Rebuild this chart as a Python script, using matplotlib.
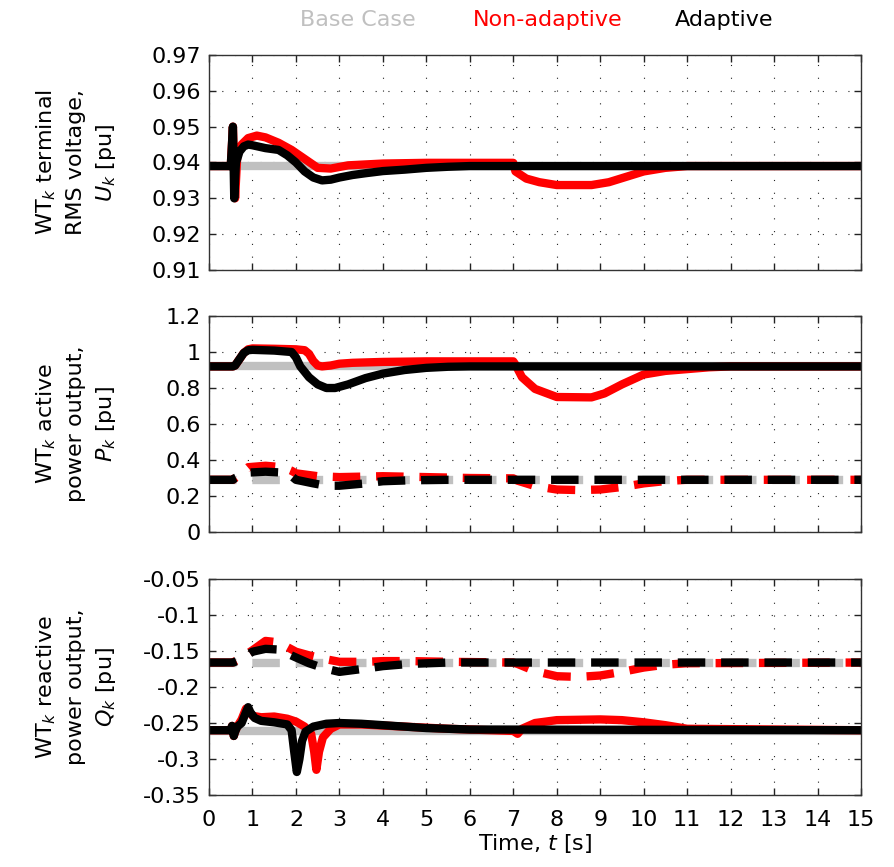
import matplotlib
matplotlib.use("Agg")
import matplotlib.pyplot as plt
from matplotlib.ticker import FixedLocator, FuncFormatter

plt.rcParams["font.family"] = ["DejaVu Sans"]
plt.rcParams["mathtext.fontset"] = "dejavusans"
plt.rcParams["axes.unicode_minus"] = False

# ---------------- data ----------------
# Terminal voltage U_k [pu]
t_u_base = [0, 15]
u_base = [0.939, 0.939]
t_u_nonad = [0, 0.5, 0.55, 0.6, 0.65, 0.75, 0.9, 1.1, 1.3, 1.6, 1.9, 2.2, 2.5, 2.8, 3.2,
             4.0, 5.0, 7.0, 7.05, 7.3, 7.6, 8.0, 8.8, 9.2, 9.6, 10.0, 10.5, 11.0, 15]
u_nonad = [0.939, 0.939, 0.950, 0.930, 0.942, 0.945, 0.9468, 0.9475, 0.947, 0.9455, 0.9435,
           0.941, 0.9385, 0.9383, 0.9392, 0.9397, 0.9399, 0.9399, 0.9375, 0.9355, 0.9345,
           0.9337, 0.9337, 0.9345, 0.936, 0.9375, 0.9385, 0.939, 0.939]
t_u_adapt = [0, 0.5, 0.55, 0.58, 0.62, 0.65, 0.7, 0.8, 0.9, 1.0, 1.3, 1.6, 1.8, 2.0, 2.2, 2.4,
             2.6, 2.8, 3.0, 3.3, 3.6, 4.0, 4.5, 5.0, 5.5, 6.0, 15]
u_adapt = [0.939, 0.939, 0.950, 0.930, 0.940, 0.941, 0.943, 0.9445, 0.945, 0.9448, 0.944,
           0.9435, 0.942, 0.940, 0.9375, 0.9358, 0.935, 0.9352, 0.9358, 0.9365, 0.937,
           0.9376, 0.938, 0.9385, 0.9388, 0.939, 0.939]

# Active power P_k [pu], solid trace
t_p_base = [0, 15]
p_base = [0.92, 0.92]
t_p_nonad = [0, 0.55, 0.6, 0.7, 0.8, 0.9, 1.0, 1.5, 2.0, 2.2, 2.3, 2.4, 2.5, 2.6, 2.8, 3.0,
             3.3, 4.0, 5.0, 6.0, 7.0, 7.05, 7.2, 7.5, 8.0, 8.8, 9.1, 9.5, 10.0, 10.5, 11.0,
             11.5, 12.0, 15]
p_nonad = [0.92, 0.92, 0.925, 0.96, 0.995, 1.015, 1.02, 1.018, 1.015, 1.01, 0.99, 0.95,
           0.925, 0.92, 0.925, 0.935, 0.94, 0.945, 0.948, 0.948, 0.948, 0.93, 0.86, 0.795,
           0.75, 0.748, 0.77, 0.82, 0.875, 0.895, 0.905, 0.915, 0.92, 0.92]
t_p_adapt = [0, 0.55, 0.6, 0.7, 0.8, 0.9, 1.0, 1.5, 1.9, 2.0, 2.1, 2.3, 2.5, 2.7, 2.9, 3.2,
             3.6, 4.0, 4.5, 5.0, 5.5, 6.0, 15]
p_adapt = [0.92, 0.92, 0.925, 0.96, 0.995, 1.01, 1.012, 1.008, 1.0, 0.97, 0.92, 0.86, 0.82,
           0.80, 0.80, 0.82, 0.855, 0.88, 0.90, 0.912, 0.918, 0.92, 0.92]

# Second power trace, dashed
t_pd_base = [0, 15]
pd_base = [0.29, 0.29]
t_pd_nonad = [0, 0.55, 0.6, 0.9, 1.3, 1.7, 1.9, 2.0, 2.5, 3.0, 3.6, 4.0, 5.0, 6.0, 7.0, 7.1,
              7.5, 8.0, 8.5, 9.0, 9.5, 10.0, 10.5, 11.0, 15]
pd_nonad = [0.29, 0.29, 0.30, 0.36, 0.368, 0.36, 0.34, 0.326, 0.31, 0.305, 0.308, 0.31,
            0.305, 0.30, 0.298, 0.285, 0.255, 0.236, 0.233, 0.236, 0.25, 0.27, 0.283, 0.29,
            0.29]
t_pd_adapt = [0, 0.55, 0.6, 0.9, 1.3, 1.7, 1.9, 2.0, 2.4, 2.7, 3.0, 3.6, 4.0, 4.6, 5.5, 15]
pd_adapt = [0.29, 0.29, 0.30, 0.33, 0.335, 0.33, 0.31, 0.29, 0.27, 0.257, 0.257, 0.27,
            0.282, 0.287, 0.29, 0.29]

# Reactive power Q_k [pu], dashed trace
t_qd_base = [0, 15]
qd_base = [-0.166, -0.166]
t_qd_nonad = [0, 0.55, 0.69, 1.0, 1.3, 1.6, 2.0, 2.3, 2.65, 3.0, 3.6, 4.0, 4.6, 5.5, 7.0,
              7.1, 7.5, 8.0, 8.5, 9.0, 9.5, 10.0, 10.5, 11.0, 15]
qd_nonad = [-0.166, -0.166, -0.161, -0.149, -0.136, -0.138, -0.151, -0.156, -0.161, -0.165,
            -0.165, -0.164, -0.164, -0.165, -0.166, -0.168, -0.178, -0.185, -0.186, -0.184,
            -0.179, -0.173, -0.169, -0.167, -0.166]
t_qd_adapt = [0, 0.55, 0.69, 1.0, 1.3, 1.6, 2.0, 2.3, 2.65, 3.0, 3.65, 4.0, 4.6, 5.5, 15]
qd_adapt = [-0.166, -0.166, -0.163, -0.151, -0.147, -0.148, -0.159, -0.167, -0.174, -0.179,
            -0.174, -0.171, -0.168, -0.166, -0.166]

# Reactive power Q_k [pu], solid trace
t_q_base = [0, 15]
q_base = [-0.261, -0.261]
t_q_nonad = [0, 0.5, 0.53, 0.57, 0.6, 0.65, 0.75, 0.85, 0.9, 1.0, 1.2, 1.5, 1.8, 2.0, 2.2,
             2.35, 2.42, 2.47, 2.53, 2.62, 2.8, 3.0, 3.5, 4.5, 5.5, 7.0, 7.1, 7.2, 7.5, 8.0,
             9.0, 9.5, 10.0, 10.5, 11.0, 15]
q_nonad = [-0.26, -0.26, -0.254, -0.268, -0.262, -0.255, -0.245, -0.23, -0.232, -0.24,
           -0.242, -0.241, -0.244, -0.248, -0.255, -0.265, -0.29, -0.315, -0.29, -0.27,
           -0.258, -0.252, -0.252, -0.255, -0.258, -0.261, -0.265, -0.258, -0.25, -0.246,
           -0.245, -0.246, -0.249, -0.253, -0.258, -0.26]
t_q_adapt = [0, 0.5, 0.53, 0.57, 0.6, 0.65, 0.75, 0.85, 0.9, 0.95, 1.05, 1.2, 1.5, 1.8, 1.9,
             1.96, 2.02, 2.08, 2.14, 2.22, 2.4, 2.7, 3.0, 3.5, 4.0, 4.5, 5.0, 6.0, 15]
q_adapt = [-0.26, -0.26, -0.254, -0.268, -0.262, -0.255, -0.25, -0.235, -0.228, -0.235,
           -0.243, -0.247, -0.249, -0.252, -0.26, -0.29, -0.318, -0.3, -0.275, -0.262,
           -0.255, -0.251, -0.25, -0.251, -0.253, -0.255, -0.257, -0.259, -0.26]

case_names = ["Base Case", "Non-adaptive", "Adaptive"]
case_colors = ["#c0c0c0", "#ff0000", "#000000"]

x_ticks = list(range(0, 16))
u_ticks = [0.91, 0.92, 0.93, 0.94, 0.95, 0.96, 0.97]
p_ticks = [0, 0.2, 0.4, 0.6, 0.8, 1.0, 1.2]
q_ticks = [-0.35, -0.3, -0.25, -0.2, -0.15, -0.1, -0.05]

# ---------------- figure ----------------
fig = plt.figure(figsize=(8.94, 8.67), dpi=100)
left, width = 0.2338, 0.7293
ax_u = fig.add_axes([left, 0.6886, width, 0.2480])
ax_p = fig.add_axes([left, 0.3864, width, 0.2491])
ax_q = fig.add_axes([left, 0.0830, width, 0.2492])

LW = 6
DASH = (3.3, 1.9)

def solid(ax, t, y, c):
    ax.plot(t, y, color=c, lw=LW, solid_joinstyle="round", solid_capstyle="butt")

def dashed(ax, t, y, c):
    ax.plot(t, y, color=c, lw=LW, dashes=DASH, dash_capstyle="butt",
            dash_joinstyle="round")

# voltage
for (t, y), c in zip([(t_u_base, u_base), (t_u_nonad, u_nonad), (t_u_adapt, u_adapt)],
                     case_colors):
    solid(ax_u, t, y, c)

# active power
for (t, y), c in zip([(t_p_base, p_base), (t_p_nonad, p_nonad), (t_p_adapt, p_adapt)],
                     case_colors):
    solid(ax_p, t, y, c)
for (t, y), c in zip([(t_pd_base, pd_base), (t_pd_nonad, pd_nonad),
                      (t_pd_adapt, pd_adapt)], case_colors):
    dashed(ax_p, t, y, c)

# reactive power
for (t, y), c in zip([(t_qd_base, qd_base), (t_qd_nonad, qd_nonad),
                      (t_qd_adapt, qd_adapt)], case_colors):
    dashed(ax_q, t, y, c)
for (t, y), c in zip([(t_q_base, q_base), (t_q_nonad, q_nonad), (t_q_adapt, q_adapt)],
                     case_colors):
    solid(ax_q, t, y, c)

def fmt_num(v, _pos=None):
    s = f"{v:.2f}".rstrip("0").rstrip(".")
    return "0" if s in ("-0", "0") else s

panels = [
    (ax_u, u_ticks, (0.91, 0.97), "WT$_k$ terminal\nRMS voltage,\n$U_k$ [pu]"),
    (ax_p, p_ticks, (0, 1.2), "WT$_k$ active\npower output,\n$P_k$ [pu]"),
    (ax_q, q_ticks, (-0.35, -0.05), "WT$_k$ reactive\npower output,\n$Q_k$ [pu]"),
]
for ax, yt, ylim, lab in panels:
    ax.set_xlim(0, 15)
    ax.set_ylim(*ylim)
    ax.xaxis.set_major_locator(FixedLocator(x_ticks))
    ax.yaxis.set_major_locator(FixedLocator(yt))
    if ax is ax_u:
        ax.yaxis.set_major_formatter(FuncFormatter(lambda v, p: f"{v:.2f}"))
    else:
        ax.yaxis.set_major_formatter(FuncFormatter(fmt_num))
    ax.grid(True, color="#222222", lw=0.8, linestyle=(0, (1, 10.5)))
    ax.set_axisbelow(True)
    ax.tick_params(direction="in", top=True, right=True, length=5, width=1,
                   labelsize=16, color="#222222")
    ax.tick_params(axis="y", pad=6)
    ax.tick_params(axis="x", pad=11)
    for s in ax.spines.values():
        s.set_color("#333333")
        s.set_linewidth(1.0)
    ax.set_ylabel(lab, fontsize=16, multialignment="center", linespacing=1.45)
    ax.yaxis.set_label_coords(-0.14, 0.5)
    if ax is not ax_q:
        ax.tick_params(labelbottom=False)

ax_q.set_xlabel("Time, $t$ [s]", fontsize=16, labelpad=1)

# case labels across the top
for name, c, x in zip(case_names, case_colors, [0.4004, 0.613, 0.81]):
    fig.text(x, 0.977, name, color=c, fontsize=16, ha="center", va="center")

fig.savefig("out.png", dpi=100)
